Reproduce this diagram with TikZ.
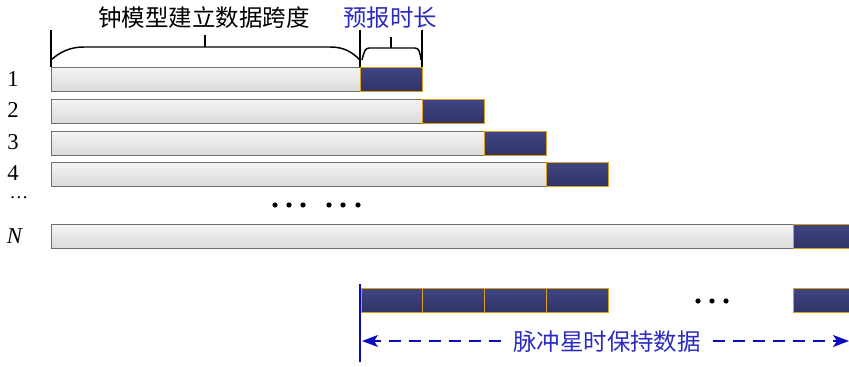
\documentclass[tikz,border=0pt]{standalone}
\usepackage{fontspec}
\setmainfont{Liberation Serif}
\newfontfamily\cjk{Noto Sans CJK SC}
\usetikzlibrary{arrows.meta}
\definecolor{graytop}{HTML}{F4F4F4}
\definecolor{graybot}{HTML}{DADADA}
\definecolor{grayedge}{HTML}{6E6E6E}
\definecolor{bluetop}{HTML}{404583}
\definecolor{bluebot}{HTML}{303365}
\definecolor{goldedge}{HTML}{D9A21E}
\definecolor{txtblue}{HTML}{2B2BC0}
\definecolor{arrblue}{HTML}{0A0ABF}
\tikzset{
  graybar/.style={draw=grayedge, line width=0.9pt, top color=graytop, bottom color=graybot, inner sep=0pt, anchor=north west},
  bluebar/.style={draw=goldedge, line width=0.9pt, top color=bluetop, bottom color=bluebot, inner sep=0pt, anchor=north west},
  rowlab/.style={font=\fontsize{17}{17}\selectfont, anchor=center, inner sep=1pt},
  dotb/.style={fill=black, draw=none},
  brace/.style={line width=1.1pt, black},
  cjklab/.style={font=\cjk\fontsize{17.6}{18}\selectfont, anchor=center, inner sep=1pt},
  darrow/.style={arrblue, line width=1.2pt, dash pattern=on 9pt off 6pt, -{Stealth[length=12pt,width=9pt,inset=3pt]}}
}
\begin{document}
\begin{tikzpicture}[x=0.75pt, y=-0.75pt]
\useasboundingbox (0,0) rectangle (849,367);
% rows
\node[graybar, minimum width=309*0.75pt, minimum height=24*0.75pt] (g1) at (51,67) {};
\node[bluebar, minimum width=62*0.75pt, minimum height=24*0.75pt] (b1) at (360,67) {};
\node[graybar, minimum width=371*0.75pt, minimum height=24*0.75pt] (g2) at (51,99) {};
\node[bluebar, minimum width=62*0.75pt, minimum height=24*0.75pt] (b2) at (422,99) {};
\node[graybar, minimum width=433*0.75pt, minimum height=24*0.75pt] (g3) at (51,131) {};
\node[bluebar, minimum width=62*0.75pt, minimum height=24*0.75pt] (b3) at (484,131) {};
\node[graybar, minimum width=495*0.75pt, minimum height=24*0.75pt] (g4) at (51,162) {};
\node[bluebar, minimum width=62*0.75pt, minimum height=24*0.75pt] (b4) at (546,162) {};
\node[graybar, minimum width=742*0.75pt, minimum height=24*0.75pt] (gN) at (51,224) {};
\node[bluebar, minimum width=62*0.75pt, minimum height=24*0.75pt] (bN) at (793,224) {};
% row labels
\node[rowlab] (l1) at (13,79) {1};
\node[rowlab] (l2) at (13,110) {2};
\node[rowlab] (l3) at (13,142) {3};
\node[rowlab] (l4) at (13,173) {4};
\node[rowlab, font=\fontsize{14}{14}\selectfont] (ld) at (19,198) {\ldots};
\node[rowlab] (lN) at (15,236) {\textit{N}};
% middle dots
\foreach \x in {275,289,303,329,343,358} \fill[dotb] (\x,205) circle (2.6);
% braces
\coordinate (t1) at (51,30);
\coordinate (t1b) at (51,67);
\coordinate (t2) at (360,30);
\coordinate (t2b) at (360,67);
\coordinate (t3) at (422,30);
\coordinate (t3b) at (422,67);
\draw[brace] (t1) -- (t1b);
\draw[brace] (t2) -- (t2b);
\draw[brace] (t3) -- (t3b);
\draw[brace] (51,60) .. controls (60,52) and (70,47) .. (84,47) -- (330,47) .. controls (344,47) and (352,52) .. (360,60);
\draw[brace] (205,47) -- (205,35);
\draw[brace] (362,60) .. controls (364,52) and (365,48) .. (369,48) -- (415,48) .. controls (419,48) and (420,52) .. (421,60);
\draw[brace] (391,48) -- (391,37);
\node[cjklab] (c1) at (204,18) {钟模型建立数据跨度};
\node[cjklab, text=txtblue] (c2) at (390,18) {预报时长};
% bottom row
\node[bluebar, minimum width=61*0.75pt, minimum height=24*0.75pt] (p1) at (361,288) {};
\node[bluebar, minimum width=62*0.75pt, minimum height=24*0.75pt] (p2) at (422,288) {};
\node[bluebar, minimum width=62*0.75pt, minimum height=24*0.75pt] (p3) at (484,288) {};
\node[bluebar, minimum width=62*0.75pt, minimum height=24*0.75pt] (p4) at (546,288) {};
\node[bluebar, minimum width=62*0.75pt, minimum height=24*0.75pt] (p5) at (793,288) {};
\foreach \x in {698,712,726} \fill[dotb] (\x,301) circle (2.6);
\coordinate (vtop) at (360,284);
\coordinate (vbot) at (360,362);
\draw[arrblue, line width=1.5pt] (vtop) -- (vbot);
\node[cjklab, text=txtblue, inner xsep=9pt] (c3) at (607,342) {脉冲星时保持数据};
\coordinate (aL) at (362,341);
\coordinate (aR) at (849,341);
\draw[darrow] (c3.west |- aL) -- (aL);
\draw[darrow] (c3.east |- aR) -- (aR);
\end{tikzpicture}
\end{document}
